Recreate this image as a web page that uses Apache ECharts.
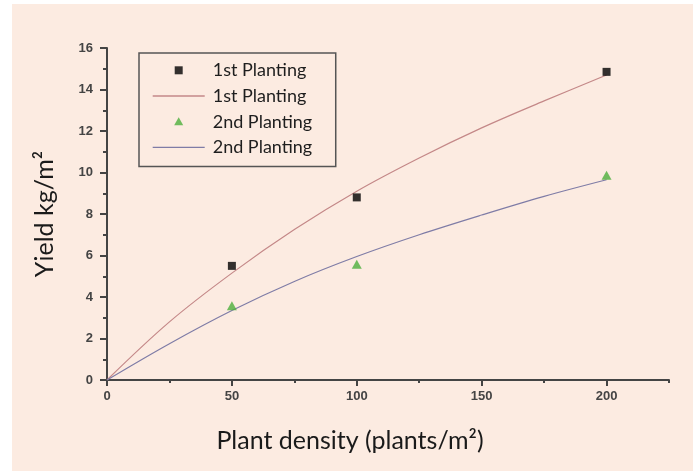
<!DOCTYPE html>
<html>
<head>
<meta charset="utf-8">
<script src="https://cdn.jsdelivr.net/npm/echarts@6/dist/echarts.min.js"></script>
<style>
html,body{margin:0;padding:0;background:#ffffff;}
#c{width:696px;height:474px;}
</style>
</head>
<body>
<div id="c"></div>
<script>
// ---- data ----
const firstPts  = [[50, 5.5], [100, 8.8], [200, 14.85]];
const secondPts = [[50, 3.58], [100, 5.58], [200, 9.87]];
const fitX      = [0, 25, 50, 75, 100, 125, 150, 175, 200];
const firstFit  = [0, 2.8, 5.15, 7.25, 9.1, 10.7, 12.15, 13.45, 14.7];
const secondFit = [0, 1.75, 3.35, 4.75, 5.95, 7.0, 7.95, 8.85, 9.65];
const xMajor    = [0, 50, 100, 150, 200];
const xMinor    = [25, 75, 125, 175, 225];
const names     = ['1st Planting', '1st Planting fit', '2nd Planting', '2nd Planting fit'];

const pair = (xs, ys) => xs.map((x, i) => [x, ys[i]]);

const chart = echarts.init(document.getElementById('c'), null, {renderer: 'canvas'});
const axisColor = '#444444';
const labelStyle = {color: '#444444', fontFamily: 'Liberation Sans, Arial, sans-serif', fontWeight: 'bold', fontSize: 13};
const titleFont = 'Lato, "Open Sans", sans-serif';
const lineIcon = 'path://M0,0h52v1.3h-52z';

chart.setOption({
  backgroundColor: '#ffffff',
  animation: false,
  graphic: [{
    type: 'rect', z: -10, silent: true,
    shape: {x: 12, y: 4, width: 681, height: 467},
    style: {fill: '#fcebe1'}
  }],
  grid: {left: 107, top: 48, width: 562, height: 332},
  legend: {
    orient: 'vertical',
    left: 139, top: 53,
    padding: [8.3, 23.5, 10, 13.7],
    itemGap: 7.7,
    itemWidth: 52, itemHeight: 14,
    borderColor: '#555555', borderWidth: 1.5,
    backgroundColor: 'transparent',
    data: [
      {name: names[0], icon: 'path://M0,0M14,14M3,3h8v8h-8z'},
      {name: names[1], icon: lineIcon},
      {name: names[2], icon: 'path://M0,0M14,14M7,2.5L11.5,10.5L2.5,10.5z'},
      {name: names[3], icon: lineIcon}
    ],
    formatter: n => n.replace(' fit', ''),
    textStyle: {fontFamily: titleFont, fontSize: 18, color: '#1e1e1e', lineHeight: 18, padding: [0, 0, 0, 3]}
  },
  xAxis: [{
    type: 'value', min: 0, max: 225, interval: 50,
    name: 'Plant density (plants/m²)',
    nameLocation: 'middle', nameGap: 48,
    nameTextStyle: {fontFamily: titleFont, fontSize: 25, color: '#1a1a1a', padding: [0, 76, 0, 0]},
    axisLine: {show: true, lineStyle: {color: axisColor, width: 2}},
    axisTick: {show: true, inside: false, length: 6, lineStyle: {color: axisColor, width: 2}, customValues: xMajor},
    axisLabel: Object.assign({margin: 10, customValues: xMajor}, labelStyle),
    splitLine: {show: false}
  }, {
    type: 'value', min: 0, max: 225, position: 'bottom',
    axisLine: {show: false},
    axisTick: {show: true, length: 3, lineStyle: {color: axisColor, width: 2}, customValues: xMinor},
    axisLabel: {show: false},
    splitLine: {show: false}
  }],
  yAxis: {
    type: 'value', min: 0, max: 16, interval: 2,
    name: 'Yield kg/m²',
    nameLocation: 'middle', nameGap: 50,
    nameTextStyle: {fontFamily: titleFont, fontSize: 25, color: '#1a1a1a'},
    axisLine: {show: true, lineStyle: {color: axisColor, width: 2}},
    axisTick: {show: true, length: 7, lineStyle: {color: axisColor, width: 2}},
    minorTick: {show: true, splitNumber: 2, length: 4, lineStyle: {color: axisColor, width: 2}},
    axisLabel: Object.assign({margin: 14}, labelStyle),
    splitLine: {show: false}
  },
  series: [
    {name: names[0], type: 'scatter', data: firstPts, symbol: 'rect', symbolSize: 8,
     itemStyle: {color: '#000000'}, z: 5},
    {name: names[1], type: 'line', data: pair(fitX, firstFit), smooth: 0.35, showSymbol: false, symbol: 'none',
     lineStyle: {color: '#c48888', width: 1.2}, itemStyle: {color: '#c48888'}},
    {name: names[2], type: 'scatter', data: secondPts, symbol: 'triangle', symbolSize: [10, 9],
     itemStyle: {color: '#4caf3c'}, z: 5},
    {name: names[3], type: 'line', data: pair(fitX, secondFit), smooth: 0.35, showSymbol: false, symbol: 'none',
     lineStyle: {color: '#7f7ca6', width: 1.2}, itemStyle: {color: '#7f7ca6'}}
  ]
});
</script>
</body>
</html>
